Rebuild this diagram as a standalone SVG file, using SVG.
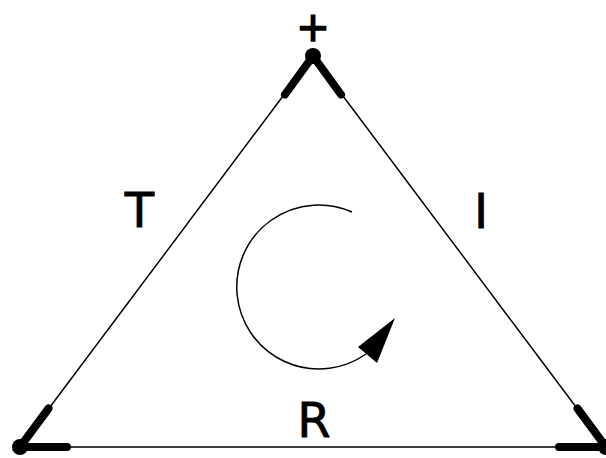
<svg xmlns="http://www.w3.org/2000/svg" width="606" height="458" viewBox="0 0 606 458">
<style>
.thin{stroke:#000;stroke-width:1.5;fill:none}
.thick{stroke:#000;stroke-width:8;stroke-linecap:round;fill:none}
.lbl{font-family:"DejaVu Sans","Liberation Sans",sans-serif;font-size:48px;fill:#000;stroke:#000;stroke-width:0.8;text-anchor:middle}
</style>
<rect width="606" height="458" fill="#fff"/>
<g id="connectors">
<line class="thin" x1="313" y1="56" x2="20" y2="447"/>
<line class="thin" x1="313" y1="56" x2="606" y2="447"/>
<line class="thin" x1="20" y1="447" x2="606" y2="447"/>
</g>
<g id="node-top">
<polyline class="thick" points="285,94.5 313,56 341,94.5"/>
<circle cx="313" cy="56" r="8"/>
<text class="lbl" x="313" y="41" style="font-size:40px;stroke-width:1.5">+</text>
</g>
<g id="node-left">
<polyline class="thick" points="48.5,408.5 20,447 67,447"/>
<circle cx="20" cy="447" r="8"/>
</g>
<g id="node-right">
<polyline class="thick" points="577.5,408.5 606,447 559,447"/>
<circle cx="606" cy="447" r="8"/>
</g>
<g id="labels">
<text class="lbl" x="139.5" y="227">T</text>
<text class="lbl" x="481" y="228">I</text>
<text class="lbl" x="314" y="437">R</text>
</g>
<g id="cycle">
<path class="thin" d="M352,212 A82,82 0 1 0 366,354"/>
<polygon points="395,318 358,347 377,363"/>
</g>
</svg>
